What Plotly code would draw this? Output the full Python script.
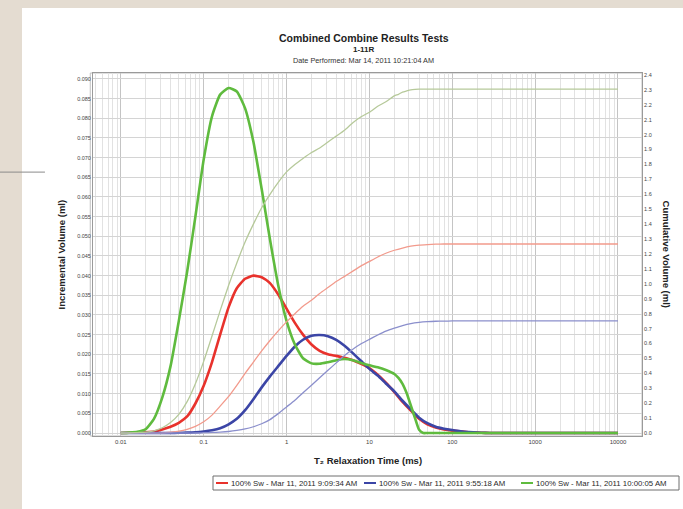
import plotly.graph_objects as go

# ---------------- data ----------------
# T2 sample points (ms) for red / blue series, and values read at them
t2_grid = [0.01, 0.0126, 0.0158, 0.02, 0.0251, 0.0316, 0.0398, 0.0501, 0.0631, 0.0794,
           0.1, 0.126, 0.158, 0.2, 0.251, 0.316, 0.398, 0.501, 0.631, 0.794,
           1, 1.26, 1.58, 2, 2.51, 3.16, 3.98, 5.01, 6.31, 7.94,
           10, 12.6, 15.8, 20, 25.1, 31.6, 39.8, 50.1, 63.1, 79.4,
           100, 126, 158, 200, 251, 316, 10000]

# Incremental volume (ml)
red_inc = [0, 0.00005, 0.0001, 0.0002, 0.0004, 0.0009, 0.0016, 0.0026, 0.0042, 0.0075,
           0.0120, 0.0180, 0.0250, 0.0320, 0.0368, 0.0392, 0.0400, 0.0396, 0.0381, 0.0352,
           0.0316, 0.0280, 0.0250, 0.0225, 0.0209, 0.0200, 0.0196, 0.0191, 0.0185, 0.0176,
           0.0165, 0.0148, 0.0128, 0.0104, 0.0079, 0.0057, 0.0036, 0.0022, 0.0014, 0.0009,
           0.0006, 0.0004, 0.0002, 0.0001, 0.00003, 0, 0]
blue_inc = [0, 0, 0, 0, 0, 0, 0, 0.00005, 0.0001, 0.0002,
            0.0004, 0.0007, 0.0012, 0.0022, 0.0036, 0.0058, 0.0086, 0.0116, 0.0144, 0.0170,
            0.0196, 0.0220, 0.0237, 0.0247, 0.0249, 0.0246, 0.0237, 0.0222, 0.0203, 0.0183,
            0.0163, 0.0146, 0.0126, 0.0106, 0.0082, 0.0060, 0.0039, 0.0025, 0.0016, 0.0011,
            0.00075, 0.00045, 0.00025, 0.0001, 0.00003, 0, 0]

# Cumulative volume (ml)
red_cum = [0, 0, 0, 0, 0, 0, 0.005, 0.012, 0.025, 0.045,
           0.075, 0.12, 0.18, 0.245, 0.32, 0.40, 0.475, 0.55, 0.62, 0.685,
           0.745, 0.80, 0.85, 0.89, 0.935, 0.975, 1.015, 1.05, 1.085, 1.12,
           1.15, 1.18, 1.205, 1.225, 1.24, 1.252, 1.259, 1.263, 1.266, 1.267,
           1.267, 1.267, 1.267, 1.267, 1.267, 1.267, 1.267]
blue_cum = [0, 0, 0, 0, 0, 0, 0, 0, 0, 0,
            0.002, 0.004, 0.006, 0.01, 0.017, 0.027, 0.042, 0.062, 0.09, 0.13,
            0.175, 0.22, 0.27, 0.32, 0.37, 0.42, 0.47, 0.52, 0.562, 0.598,
            0.628, 0.657, 0.683, 0.703, 0.72, 0.733, 0.741, 0.746, 0.749, 0.750,
            0.751, 0.751, 0.751, 0.751, 0.751, 0.751, 0.751]

# Green series has a steeper fall-off, so its own sample points
green_t2 = [0.01, 0.0126, 0.0158, 0.02, 0.0251, 0.0316, 0.0398, 0.0501, 0.0631, 0.0794,
            0.1, 0.126, 0.158, 0.2, 0.251, 0.316, 0.398, 0.501, 0.631, 0.794,
            1, 1.26, 1.58, 2, 2.51, 3.16, 3.98, 5.01, 6.31, 7.94,
            10, 12.6, 15.8, 20, 22.4, 25.1, 28.2, 31.6, 35.5, 39.8, 44.7, 50.1, 10000]
green_inc = [0, 0.0001, 0.0003, 0.0010, 0.0036, 0.0090, 0.0170, 0.0285, 0.0410, 0.0550,
             0.0695, 0.0805, 0.0860, 0.0877, 0.0868, 0.0825, 0.0740, 0.0620, 0.0492, 0.0375,
             0.0285, 0.0225, 0.0190, 0.0177, 0.0176, 0.0180, 0.0185, 0.0188, 0.0185, 0.0178,
             0.0172, 0.0167, 0.0160, 0.0150, 0.0140, 0.0125, 0.0101, 0.0070, 0.0038, 0.0008,
             0, 0, 0]
green_cum = [0, 0, 0.003, 0.006, 0.015, 0.035, 0.07, 0.125, 0.21, 0.33,
             0.48, 0.65, 0.82, 0.99, 1.14, 1.28, 1.40, 1.51, 1.60, 1.68,
             1.75, 1.80, 1.84, 1.88, 1.91, 1.95, 1.99, 2.03, 2.08, 2.12,
             2.15, 2.19, 2.22, 2.26, 2.27, 2.285, 2.293, 2.30, 2.303, 2.305,
             2.305, 2.305, 2.305]

series_names = ["100% Sw - Mar 11, 2011 9:09:34 AM",
                "100% Sw - Mar 11, 2011 9:55:18 AM",
                "100% Sw - Mar 11, 2011 10:00:05 AM"]

x_tick_vals = [0.01, 0.1, 1, 10, 100, 1000, 10000]
x_tick_text = ["0.01", "0.1", "1", "10", "100", "1000", "10000"]

# ---------------- styling ----------------
FONT = "Liberation Sans, Arial, sans-serif"
inc_colors = ["#e8322c", "#3b45a6", "#5fbb3e"]
cum_colors = ["#f29a8c", "#8b8fcc", "#b6c99a"]

fig = go.Figure()

inc_sets = [(t2_grid, red_inc), (t2_grid, blue_inc), (green_t2, green_inc)]
cum_sets = [(t2_grid, red_cum), (t2_grid, blue_cum), (green_t2, green_cum)]

for (t, v), c, n in zip(inc_sets, inc_colors, series_names):
    fig.add_trace(go.Scatter(x=t, y=v, mode="lines", name=n, showlegend=False,
                             line=dict(color=c, width=2.6, shape="spline", smoothing=0.5)))

for (t, v), c, n in zip(cum_sets, cum_colors, series_names):
    fig.add_trace(go.Scatter(x=t, y=v, mode="lines", name=n, yaxis="y2", showlegend=False,
                             line=dict(color=c, width=1.3, shape="spline", smoothing=0.5)))

minor_vals = [m * 10 ** e for e in range(-3, 5) for m in range(2, 10)]

fig.update_layout(
    width=683, height=509,
    margin=dict(l=93, r=41, t=73, b=73, autoexpand=False),
    paper_bgcolor="#e4dcd1",
    plot_bgcolor="white",
    font=dict(family=FONT, size=6, color="#444"),
    xaxis=dict(type="log", range=[-2.336, 4.29],
               tickmode="array", tickvals=x_tick_vals, ticktext=x_tick_text,
               showgrid=True, gridcolor="#c4c4c4", gridwidth=1,
               minor=dict(tickmode="array", tickvals=minor_vals, showgrid=True,
                          gridcolor="#e2e2e2", gridwidth=1, ticks=""),
               showline=True, linecolor="#9a9a9a", linewidth=1, mirror=True,
               ticks="", tickfont=dict(size=6, color="#444"), zeroline=False),
    yaxis=dict(range=[-0.00076, 0.0915], tickmode="linear", tick0=0, dtick=0.005,
               tickformat=".3f", showgrid=True, gridcolor="#d4d4d4", gridwidth=1,
               showline=True, linecolor="#9a9a9a", linewidth=1, mirror=True,
               ticks="", tickfont=dict(size=5.5, color="#444"), zeroline=False),
    yaxis2=dict(overlaying="y", side="right", range=[-0.02, 2.413], tickmode="linear",
                tick0=0, dtick=0.1, tickformat=".1f", showgrid=False, zeroline=False,
                showline=True, linecolor="#9a9a9a", linewidth=1, ticks="",
                tickfont=dict(size=5.5, color="#444")),
    showlegend=False,
)

# background white panel & decorative line
fig.add_shape(type="rect", xref="paper", yref="paper", x0=-0.1293, x1=1.1, y0=-0.25, y1=1.179,
              fillcolor="white", line=dict(width=0), layer="below")
fig.add_shape(type="line", xref="paper", yref="paper", x0=-0.2, x1=-0.0875, y0=0.727, y1=0.727,
              line=dict(color="#8a8a8a", width=1), layer="below")
# inner double border line of the plot frame
fig.add_shape(type="rect", xref="paper", yref="paper", x0=-0.005, x1=1.0, y0=0.0, y1=1.0,
              line=dict(color="#c0c0c0", width=1), layer="below")

# titles
cx = 0.4936
def note(text, x, y, size, color="#222", angle=0, xshift=0, yshift=0, xanchor="center"):
    fig.add_annotation(text=text, xref="paper", yref="paper", x=x, y=y, xanchor=xanchor,
                       yanchor="middle", xshift=xshift, yshift=yshift, textangle=angle,
                       showarrow=False, font=dict(family=FONT, size=size, color=color))

note("<b>Combined Combine Results Tests</b>", cx, 1, 10.5, yshift=35)
note("<b>1-11R</b>", cx, 1, 8, yshift=24)
note("Date Performed: Mar 14, 2011 10:21:04 AM", cx, 1, 7.3, color="#333", yshift=13)
note("<b>T₂ Relaxation Time (ms)</b>", 0.5, 0, 9.5, yshift=-24)
note("<b>Incremental Volume (ml)</b>", -0.0565, 0.5, 9.5, angle=-90)
note("<b>Cumulative Volume (ml)</b>", 1.0455, 0.5, 9.5, angle=90)

# legend box (drawn as in the reference: short line swatches)
leg_y = -0.1295
fig.add_shape(type="rect", xref="paper", yref="paper", x0=0.2186, x1=1.0674, y0=-0.1488, y1=-0.1102,
              fillcolor="white", line=dict(color="#6f6f6f", width=1))
leg_x = [0.2240, 0.4936, 0.7796]
for lx, c, n in zip(leg_x, inc_colors, series_names):
    fig.add_shape(type="line", xref="paper", yref="paper", x0=lx, x1=lx + 0.0219, y0=leg_y, y1=leg_y,
                  line=dict(color=c, width=2))
    note(n, lx + 0.0237, leg_y, 7.8, color="#2a2a2a", xanchor="left")

fig.write_html("out.html", post_script="document.body.style.margin='0';",
               config={"displayModeBar": False})
